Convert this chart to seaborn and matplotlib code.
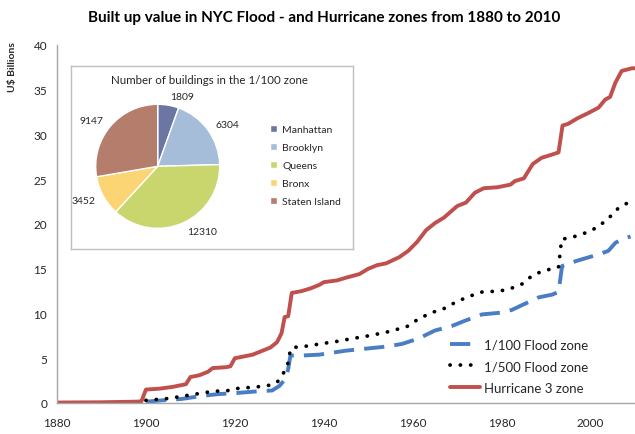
import matplotlib
matplotlib.use("Agg")
import matplotlib.pyplot as plt
import seaborn as sns
import pandas as pd

# ---------------- data ----------------
hur_years = [1880, 1890, 1898, 1899, 1900, 1903, 1906, 1908, 1909, 1910, 1912, 1914, 1915,
             1918, 1919, 1920, 1922, 1924, 1926, 1928, 1929.5, 1930.5, 1931.2, 1932, 1932.8,
             1935, 1937, 1939, 1940, 1943, 1945, 1948, 1950, 1952, 1954, 1957, 1959, 1961,
             1963, 1965, 1967, 1970, 1972, 1974, 1976, 1979, 1982, 1983, 1985, 1987, 1989,
             1991, 1992.8, 1993.7, 1995, 1997, 1999.5, 2001.8, 2003.3, 2004.4, 2005.6, 2007,
             2009.3, 2010]
hur_vals = [0.05, 0.08, 0.15, 0.2, 1.5, 1.6, 1.8, 2.0, 2.1, 2.9, 3.1, 3.5, 3.9,
            4.0, 4.1, 5.0, 5.2, 5.4, 5.8, 6.2, 6.8, 7.8, 9.6, 9.7, 12.3,
            12.5, 12.8, 13.2, 13.5, 13.7, 14.0, 14.4, 15.0, 15.4, 15.6, 16.3, 17.0, 18.0,
            19.3, 20.1, 20.7, 22.0, 22.4, 23.5, 24.0, 24.1, 24.4, 24.8, 25.1, 26.7, 27.4,
            27.7, 28.0, 31.0, 31.2, 31.8, 32.4, 33.0, 33.9, 34.2, 35.8, 37.1,
            37.4, 37.4]

z500_years = [1900, 1905, 1910, 1915, 1919, 1920, 1925, 1928, 1929.5, 1931, 1932, 1932.5,
              1933, 1937, 1939, 1942.6, 1946.4, 1950, 1954, 1957, 1959, 1961.3, 1964.3,
              1967.3, 1969.6, 1972.6, 1975.6, 1979.3, 1981.6, 1984.6, 1986.8, 1989, 1991.3,
              1992.8, 1993.5, 1995.8, 1998.8, 2001, 2003, 2004.8, 2006.3, 2008.5]
z500_vals = [0.3, 0.5, 0.9, 1.3, 1.4, 1.6, 1.8, 2.0, 2.3, 3.4, 4.5, 6.0,
             6.2, 6.4, 6.6, 6.85, 7.2, 7.5, 7.9, 8.3, 8.6, 9.4, 10.1,
             10.6, 11.25, 11.9, 12.4, 12.5, 12.7, 13.3, 14.2, 14.7, 15.0,
             15.2, 18.3, 18.5, 19.0, 19.5, 20.2, 21.0, 21.8, 22.4]

z100_years = [1900, 1905, 1908, 1910, 1912.7, 1916.4, 1920, 1925, 1928.4, 1930, 1931.4, 1932,
              1932.5, 1935, 1939, 1945, 1950, 1954, 1957.6, 1961.3, 1965, 1968.8, 1971.8,
              1975.6, 1980, 1982.3, 1985.3, 1988.3, 1991.3, 1992.8, 1993.6, 1997, 2001.8,
              2004, 2005.6, 2007.5, 2009]
z100_vals = [0.15, 0.35, 0.45, 0.6, 0.8, 1.0, 1.1, 1.3, 1.4, 1.9, 2.7, 3.8,
             5.3, 5.3, 5.4, 5.85, 6.1, 6.3, 6.6, 7.2, 8.1, 8.6, 9.2,
             9.9, 10.1, 10.4, 11.1, 11.8, 12.1, 12.4, 15.3, 15.9, 16.6,
             17.0, 17.9, 18.4, 18.6]

boroughs = ["Manhattan", "Brooklyn", "Queens", "Bronx", "Staten Island"]
buildings = [1809, 6304, 12310, 3452, 9147]

series_names = ["1/100 Flood zone", "1/500 Flood zone", "Hurricane 3 zone"]
x_ticks = [1880, 1900, 1920, 1940, 1960, 1980, 2000]
y_ticks = [0, 5, 10, 15, 20, 25, 30, 35, 40]

# ---------------- style ----------------
sns.set_theme(style="white")
plt.rcParams["font.family"] = ["Lato", "DejaVu Sans"]

fig = plt.figure(figsize=(6.35, 4.35), dpi=100)
W, H = 635, 435

def fbox(x0, y0, x1, y1):
    return [x0 / W, 1 - y1 / H, (x1 - x0) / W, (y1 - y0) / H]

ax = fig.add_axes(fbox(57, 46, 635, 404))

df100 = pd.DataFrame({"year": z100_years, "value": z100_vals})
df500 = pd.DataFrame({"year": z500_years, "value": z500_vals})
dfh = pd.DataFrame({"year": hur_years, "value": hur_vals})

sns.lineplot(data=df100, x="year", y="value", ax=ax, color="#4A7EC4", lw=2.8,
             linestyle=(0, (5.2, 2.6)), label=series_names[0], sort=False,
             dash_capstyle="butt", estimator=None)
sns.lineplot(data=df500, x="year", y="value", ax=ax, color="black", lw=2.7,
             linestyle=(0, (0.05, 2.7)), label=series_names[1], sort=False,
             dash_capstyle="round", estimator=None)
sns.lineplot(data=dfh, x="year", y="value", ax=ax, color="#C0504D", lw=2.8,
             label=series_names[2], sort=False, estimator=None, solid_joinstyle="round")

ax.set_xlim(1880, 2010)
ax.set_ylim(0, 40)
ax.set_xticks(x_ticks)
ax.set_yticks(y_ticks)
ax.set_xlabel("")
ax.set_ylabel("")
for s in ["top", "right"]:
    ax.spines[s].set_visible(False)
for s in ["left", "bottom"]:
    ax.spines[s].set_color("#A6A6A6")
    ax.spines[s].set_linewidth(1.0)
ax.tick_params(axis="both", direction="out", length=4, width=1, color="#A6A6A6",
               labelsize=8.5, labelcolor="#262626", pad=3)
ax.tick_params(axis="x", pad=6)

leg = ax.legend(loc="lower right", bbox_to_anchor=(0.94, -0.008), frameon=False,
                fontsize=9.5, handlelength=2.3, handletextpad=0.3, labelspacing=0.75,
                borderaxespad=0.5)
for t in leg.get_texts():
    t.set_color("#262626")

fig.text(324 / W, 1 - 18 / H, "Built up value in NYC Flood - and Hurricane zones from 1880 to 2010",
         ha="center", va="center", fontsize=11, fontweight="bold", color="black")
fig.text(13 / W, 1 - 67 / H, "U$ Billions", rotation=90, ha="center", va="center",
         fontsize=7.5, fontweight="bold", color="#262626")

# ---------------- inset pie ----------------
frame_ax = fig.add_axes(fbox(70.7, 67.3, 353.3, 250))
frame_ax.set_xticks([])
frame_ax.set_yticks([])
frame_ax.set_facecolor("white")
for s in frame_ax.spines.values():
    s.set_color("#BFBFBF")
    s.set_linewidth(1.0)
    s.set_visible(True)
frame_ax.text(0.49, 0.93, "Number of buildings in the 1/100 zone", transform=frame_ax.transAxes,
              ha="center", va="center", fontsize=8.3, color="#262626")

cx, cy, r = 157.7, 167.3, 62
pie_ax = fig.add_axes(fbox(cx - 1.25 * r, cy - 1.25 * r, cx + 1.25 * r, cy + 1.25 * r))
pie_colors = ["#6B76A3", "#A5BDD8", "#C9D66E", "#FBD574", "#B57D6B"]
wedges, texts = pie_ax.pie(buildings, labels=[str(v) for v in buildings], colors=pie_colors,
                           startangle=90, counterclock=False, labeldistance=1.15,
                           textprops={"fontsize": 7.5, "color": "#262626"})
pie_ax.set_xlim(-1.25, 1.25)
pie_ax.set_ylim(-1.25, 1.25)
pie_ax.set_aspect("equal")

pie_leg = fig.legend(wedges, boroughs, loc="upper left",
                     bbox_to_anchor=(266 / W, 1 - 122 / H), frameon=False,
                     fontsize=7.5, handlelength=0.65, handleheight=0.65,
                     handletextpad=0.5, labelspacing=0.85, borderaxespad=0)
for t in pie_leg.get_texts():
    t.set_color("#262626")

fig.savefig("out.png", dpi=100)
